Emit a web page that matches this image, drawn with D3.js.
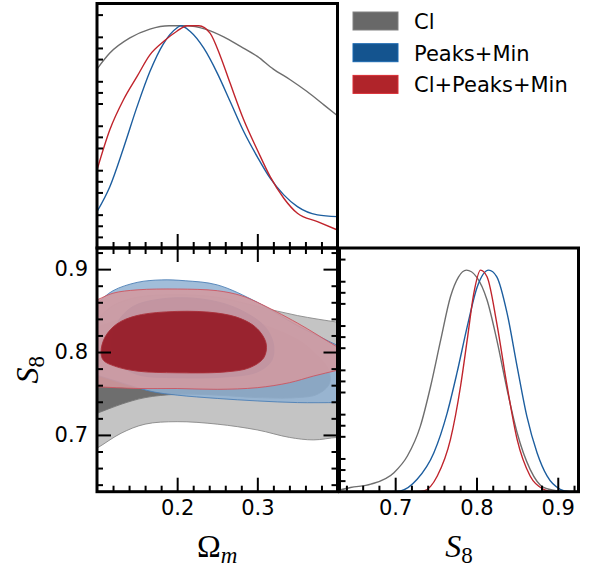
<!DOCTYPE html>
<html>
<head>
<meta charset="utf-8">
<script src="https://cdn.jsdelivr.net/npm/d3@7"></script>
<style>
  html, body { margin: 0; padding: 0; background: #ffffff; }
  svg { display: block; }
</style>
</head>
<body>
<svg id="chart" width="593" height="570"></svg>
<script>
// ---- Series definitions -------------------------------------------------
const seriesNames = ["Cl", "Peaks+Min", "Cl+Peaks+Min"];
const seriesLegendColors = ["#686868", "#14548f", "#b0242a"];
const seriesLineColors = ["#6e6e6e", "#1d5e9f", "#c0242c"];

// ---- Axis ticks ---------------------------------------------------------
const omegaDomain = [0.1, 0.4];
const s8Domain = [0.6315, 0.9255];
const densityDomain = [0, 1.1];
const omegaMajorTicks = [0.2, 0.3];
const s8MajorTicks = [0.7, 0.8, 0.9];

// ---- 1D marginal of Omega_m: [Omega_m, P/Pmax] --------------------------
const omegaCl = [[0.1,0.805],[0.116,0.877],[0.141,0.945],[0.166,0.985],[0.19,1.0],[0.212,1.0],[0.235,0.985],[0.258,0.95],[0.279,0.907],[0.3,0.862],[0.32,0.805],[0.341,0.757],[0.362,0.704],[0.383,0.644],[0.4,0.595]];
const omegaPeaks = [[0.1,0.164],[0.116,0.276],[0.133,0.449],[0.15,0.636],[0.166,0.794],[0.183,0.92],[0.1996,0.99],[0.2046,1.0],[0.216,0.975],[0.233,0.9],[0.25,0.787],[0.266,0.66],[0.283,0.524],[0.3,0.41],[0.316,0.314],[0.333,0.239],[0.35,0.186],[0.375,0.149],[0.4,0.141]];
const omegaComb = [[0.1,0.351],[0.116,0.532],[0.133,0.667],[0.15,0.772],[0.166,0.869],[0.183,0.929],[0.1996,0.975],[0.2125,1.0],[0.227,1.0],[0.241,0.967],[0.254,0.862],[0.266,0.742],[0.283,0.577],[0.3,0.441],[0.316,0.321],[0.333,0.224],[0.35,0.156],[0.375,0.119],[0.4,0.081]];

// ---- 1D marginal of S8: [S8, P/Pmax] ------------------------------------
const s8Cl = [[0.62,0.004],[0.632,0.008],[0.645,0.019],[0.67,0.034],[0.6985,0.086],[0.715,0.161],[0.731,0.296],[0.7436,0.476],[0.756,0.685],[0.768,0.88],[0.778,0.97],[0.7876,1.0],[0.8,0.97],[0.813,0.865],[0.825,0.685],[0.8377,0.46],[0.85,0.266],[0.866,0.101],[0.8826,0.019],[0.899,0.004],[0.915,0.0]];
const s8Peaks = [[0.695,0.0],[0.7067,0.004],[0.727,0.056],[0.7476,0.176],[0.764,0.356],[0.776,0.536],[0.7886,0.745],[0.801,0.925],[0.815,1.0],[0.825,0.97],[0.8377,0.805],[0.85,0.565],[0.862,0.34],[0.8745,0.176],[0.8868,0.071],[0.903,0.011],[0.915,0.0]];
const s8Comb = [[0.725,0.0],[0.7355,0.004],[0.7518,0.071],[0.768,0.236],[0.7804,0.476],[0.7886,0.685],[0.7967,0.895],[0.805,1.0],[0.813,0.97],[0.825,0.76],[0.8377,0.476],[0.85,0.236],[0.866,0.071],[0.8826,0.011],[0.895,0.0]];

// ---- 2D credible regions in (Omega_m, S8): 95% and 68% ------------------
const clOuter = [[0.07,0.822],[0.1,0.840],[0.12,0.856],[0.15,0.866],[0.2,0.869],[0.25,0.866],[0.3,0.855],[0.35,0.844],[0.4,0.836],[0.43,0.832],[0.43,0.697],[0.4,0.697],[0.37,0.694],[0.34,0.697],[0.3,0.706],[0.25,0.713],[0.2,0.716],[0.16,0.713],[0.13,0.702],[0.1,0.684],[0.07,0.668]];
const clInner = [[0.07,0.715],[0.1,0.726],[0.13,0.737],[0.16,0.745],[0.2,0.749],[0.25,0.748],[0.3,0.745],[0.35,0.745],[0.375,0.749],[0.39,0.762],[0.388,0.78],[0.37,0.80],[0.35,0.815],[0.3,0.835],[0.25,0.846],[0.2,0.85],[0.15,0.845],[0.1,0.83],[0.07,0.82]];
const peaksOuter = [[0.07,0.838],[0.1,0.859],[0.12,0.874],[0.15,0.884],[0.18,0.887],[0.21,0.886],[0.25,0.881],[0.3,0.86],[0.35,0.832],[0.4,0.808],[0.43,0.795],[0.43,0.739],[0.4,0.739],[0.35,0.739],[0.3,0.741],[0.25,0.744],[0.2,0.748],[0.17,0.752],[0.14,0.76],[0.12,0.766],[0.1,0.772],[0.07,0.781]];
const peaksInner = [[0.118,0.81],[0.125,0.835],[0.145,0.855],[0.18,0.864],[0.22,0.865],[0.26,0.858],[0.29,0.845],[0.31,0.83],[0.32,0.81],[0.318,0.79],[0.3,0.776],[0.26,0.77],[0.2,0.769],[0.15,0.773],[0.125,0.788]];
const combOuter = [[0.07,0.853],[0.1,0.863],[0.12,0.871],[0.15,0.875],[0.2,0.876],[0.25,0.874],[0.28,0.868],[0.3,0.86],[0.35,0.835],[0.4,0.806],[0.43,0.79],[0.43,0.785],[0.4,0.778],[0.37,0.771],[0.34,0.763],[0.3,0.757],[0.25,0.755],[0.2,0.756],[0.15,0.756],[0.1,0.758],[0.07,0.759]];
const combInner = [[0.105,0.80],[0.11,0.818],[0.125,0.834],[0.15,0.844],[0.2,0.849],[0.25,0.847],[0.28,0.84],[0.3,0.828],[0.311,0.81],[0.308,0.793],[0.29,0.781],[0.26,0.776],[0.2,0.775],[0.15,0.777],[0.122,0.783],[0.108,0.79]];

// ---- Layout -------------------------------------------------------------
const svg = d3.select("#chart");
const colL = [97, 337.5], colR = [339.5, 578.5];
const rowT = [3.5, 248], rowB = [248, 491.7];
const TICK_FONT = "'DejaVu Sans', sans-serif";
const MATH_FONT = "'Liberation Serif', 'DejaVu Serif', serif";

const xOmega = d3.scaleLinear().domain(omegaDomain).range(colL);
const xS8 = d3.scaleLinear().domain(s8Domain).range(colR);
const yS8 = d3.scaleLinear().domain(s8Domain).range([rowB[1], rowB[0]]);
const yDensTop = d3.scaleLinear().domain(densityDomain).range([rowT[1], rowT[0]]);
const yDensBot = d3.scaleLinear().domain(densityDomain).range([rowB[1], rowB[0]]);

const near = (a, b) => Math.abs(a - b) < 1e-6;
const minorOf = (start, stop, step, majors) =>
  d3.range(start, stop + 1e-9, step).map(v => +v.toFixed(4)).filter(v => !majors.some(m => near(m, v)));
const omegaMinor = minorOf(0.12, 0.38, 0.02, omegaMajorTicks);
const s8Minor = minorOf(0.64, 0.92, 0.02, s8MajorTicks);
const densityMinor = minorOf(0.05, 1.05, 0.05, [0.2, 0.4, 0.6, 0.8, 1.0]);

// clip rectangles for each panel
const defs = svg.append("defs");
function clip(id, xr, yr) {
  defs.append("clipPath").attr("id", id).append("rect")
    .attr("x", xr[0]).attr("y", yr[0]).attr("width", xr[1] - xr[0]).attr("height", yr[1] - yr[0]);
  return `url(#${id})`;
}
const clipTL = clip("clip-tl", colL, rowT);
const clipBL = clip("clip-bl", colL, rowB);
const clipBR = clip("clip-br", colR, rowB);

// ---- 2D panel -----------------------------------------------------------
const contourPath = d3.line()
  .x(d => xOmega(d[0])).y(d => yS8(d[1]))
  .curve(d3.curveCatmullRomClosed.alpha(0.5));

const regions = [
  { pts: clOuter,    fill: "rgb(186,186,186)", op: 0.85, stroke: "#8a8a8a" },
  { pts: clInner,    fill: "rgb(98,98,98)",    op: 0.88, stroke: "#777777" },
  { pts: peaksOuter, fill: "rgb(145,178,210)", op: 0.85, stroke: "#4d7fb6" },
  { pts: peaksInner, fill: "rgb(82,124,172)",  op: 0.88, stroke: "#4d7fb6" },
  { pts: combOuter,  fill: "rgb(212,152,158)", op: 0.86, stroke: "#cc5561" },
  { pts: combInner,  fill: "rgb(150,25,37)",   op: 0.92, stroke: "#a8303a" }
];
const g2d = svg.append("g").attr("clip-path", clipBL);
regions.forEach(r => {
  g2d.append("path").attr("d", contourPath(r.pts))
    .attr("fill", r.fill).attr("fill-opacity", r.op)
    .attr("stroke", r.stroke).attr("stroke-width", 1).attr("stroke-opacity", 0.9);
});

// ---- 1D panels ----------------------------------------------------------
const omegaLine = d3.line().x(d => xOmega(d[0])).y(d => yDensTop(d[1])).curve(d3.curveMonotoneX);
const s8Line = d3.line().x(d => xS8(d[0])).y(d => yDensBot(d[1])).curve(d3.curveMonotoneX);

const gTop = svg.append("g").attr("clip-path", clipTL);
[omegaCl, omegaPeaks, omegaComb].forEach((s, i) => {
  gTop.append("path").attr("d", omegaLine(s)).attr("fill", "none")
    .attr("stroke", seriesLineColors[i]).attr("stroke-width", 1.4);
});
const gRight = svg.append("g").attr("clip-path", clipBR);
[s8Cl, s8Peaks, s8Comb].forEach((s, i) => {
  gRight.append("path").attr("d", s8Line(s)).attr("fill", "none")
    .attr("stroke", seriesLineColors[i]).attr("stroke-width", 1.4);
});

// ---- Ticks (inward) -----------------------------------------------------
const MAJOR = 14, MINOR = 6;
function ticks(axisFactory, scale, values, size, transform, labels, pad) {
  const ax = axisFactory(scale).tickValues(values).tickSizeInner(-size).tickSizeOuter(0)
    .tickPadding(pad || 0).tickFormat(labels ? d3.format(".1f") : () => "");
  const g = svg.append("g").attr("transform", transform).call(ax);
  g.select(".domain").remove();
  g.selectAll(".tick line").attr("stroke", "#000").attr("stroke-width", 2);
  g.selectAll(".tick text").attr("font-family", TICK_FONT).attr("font-size", 21).attr("fill", "#000");
  return g;
}
// top-left: Omega_m ticks on the bottom, density ticks on the left
ticks(d3.axisBottom, xOmega, omegaMajorTicks, MAJOR, `translate(0,${rowT[1]})`);
ticks(d3.axisBottom, xOmega, omegaMinor, MINOR, `translate(0,${rowT[1]})`);
ticks(d3.axisLeft, yDensTop, densityMinor, MINOR, `translate(${colL[0]},0)`);
// bottom-left: ticks on all four sides, labels on left and bottom
ticks(d3.axisBottom, xOmega, omegaMajorTicks, MAJOR, `translate(0,${rowB[1]})`, true, 8);
ticks(d3.axisBottom, xOmega, omegaMinor, MINOR, `translate(0,${rowB[1]})`);
ticks(d3.axisTop, xOmega, omegaMajorTicks, MAJOR, `translate(0,${rowB[0]})`);
ticks(d3.axisTop, xOmega, omegaMinor, MINOR, `translate(0,${rowB[0]})`);
ticks(d3.axisLeft, yS8, s8MajorTicks, MAJOR, `translate(${colL[0]},0)`, true, 9);
ticks(d3.axisLeft, yS8, s8Minor, MINOR, `translate(${colL[0]},0)`);
ticks(d3.axisRight, yS8, s8MajorTicks, MAJOR, `translate(${colL[1]},0)`);
ticks(d3.axisRight, yS8, s8Minor, MINOR, `translate(${colL[1]},0)`);
// bottom-right: S8 ticks on the bottom, density ticks on the left
ticks(d3.axisBottom, xS8, s8MajorTicks, MAJOR, `translate(0,${rowB[1]})`, true, 8);
ticks(d3.axisBottom, xS8, s8Minor, MINOR, `translate(0,${rowB[1]})`);
ticks(d3.axisLeft, yDensBot, densityMinor, MINOR, `translate(${colR[0]},0)`);

// ---- Panel frames -------------------------------------------------------
[[colL, rowT], [colL, rowB], [colR, rowB]].forEach(([xr, yr]) => {
  svg.append("rect").attr("x", xr[0]).attr("y", yr[0])
    .attr("width", xr[1] - xr[0]).attr("height", yr[1] - yr[0])
    .attr("fill", "none").attr("stroke", "#000").attr("stroke-width", 3);
});

// ---- Axis labels --------------------------------------------------------
const omLabel = svg.append("text").attr("x", (colL[0] + colL[1]) / 2).attr("y", 557)
  .attr("text-anchor", "middle").attr("font-family", MATH_FONT).attr("font-size", 32).attr("fill", "#000");
omLabel.append("tspan").text("Ω");
omLabel.append("tspan").attr("font-style", "italic").attr("font-size", 23).attr("dy", 6).text("m");

const s8LabelX = svg.append("text").attr("x", (colR[0] + colR[1]) / 2).attr("y", 557)
  .attr("text-anchor", "middle").attr("font-family", MATH_FONT).attr("font-size", 32).attr("fill", "#000");
s8LabelX.append("tspan").attr("font-style", "italic").text("S");
s8LabelX.append("tspan").attr("font-size", 23).attr("dy", 6).text("8");

const s8LabelY = svg.append("text").attr("transform", `translate(38,${(rowB[0] + rowB[1]) / 2}) rotate(-90)`)
  .attr("text-anchor", "middle").attr("font-family", MATH_FONT).attr("font-size", 32).attr("fill", "#000");
s8LabelY.append("tspan").attr("font-style", "italic").text("S");
s8LabelY.append("tspan").attr("font-size", 23).attr("dy", 6).text("8");

// ---- Legend -------------------------------------------------------------
const legend = svg.append("g").attr("transform", "translate(353,12)");
seriesNames.forEach((name, i) => {
  const row = legend.append("g").attr("transform", `translate(0,${i * 31.7})`);
  row.append("rect").attr("x", 0).attr("y", 0).attr("width", 45).attr("height", 18)
    .attr("fill", seriesLegendColors[i])
    .attr("stroke", d3.color(seriesLegendColors[i]).brighter(0.6)).attr("stroke-width", 1);
  row.append("text").attr("x", 61).attr("y", 17).text(name)
    .attr("font-family", TICK_FONT).attr("font-size", 21).attr("fill", "#000");
});
</script>
</body>
</html>
